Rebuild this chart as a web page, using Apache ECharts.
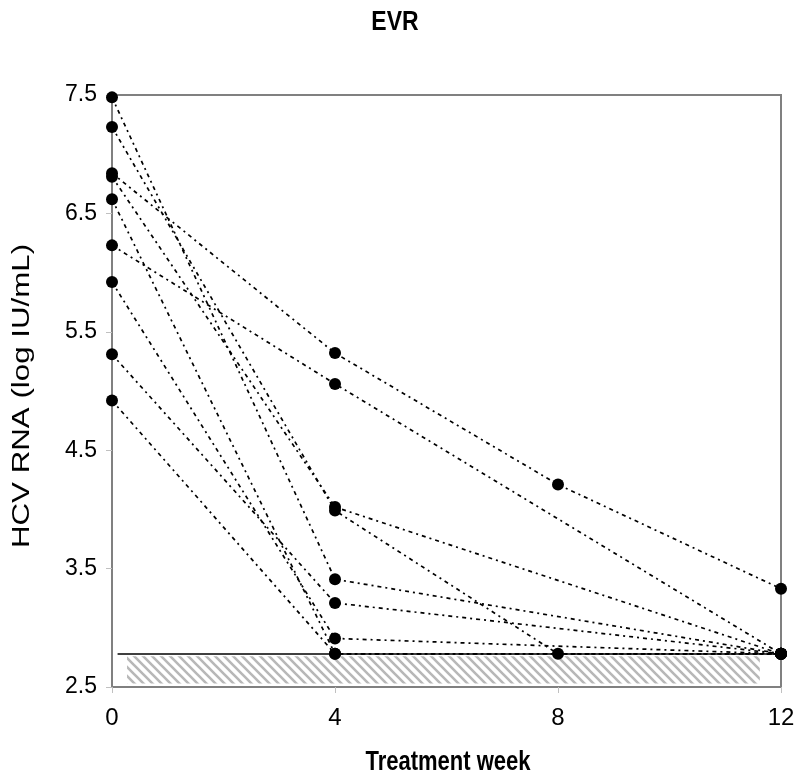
<!DOCTYPE html>
<html>
<head>
<meta charset="utf-8">
<script src="https://cdn.jsdelivr.net/npm/echarts@6/dist/echarts.min.js"></script>
<style>html,body{margin:0;padding:0;background:#fff;}#c{width:800px;height:777px;}</style>
</head>
<body>
<div id="c"></div>
<script>
// Treatment weeks and patient HCV RNA values (log IU/mL)
const weeks = [0, 4, 8, 12];
const patient1 = [7.48, 3.41, null, 2.78];
const patient2 = [7.23, 3.99, 2.78, 2.78];
const patient3 = [6.84, 5.32, 4.21, 3.33];
const patient4 = [6.81, 4.02, null, 2.78];
const patient5 = [6.62, 2.78, null, 2.78];
const patient6 = [6.23, 5.06, null, 2.78];
const patient7 = [5.92, 2.91, null, 2.78];
const patient8 = [5.31, 3.21, null, 2.78];
const patient9 = [4.92, 2.78, null, 2.78];
const patients = [patient1, patient2, patient3, patient4, patient5, patient6, patient7, patient8, patient9];
const limitOfDetection = 2.78;
const limitLineStart = 0.1;
const hatchBottom = 2.53;
const hatchStartWeek = 0.27;
const hatchEndWeek = 11.62;
const yTicks = ['2.5', '3.5', '4.5', '5.5', '6.5', '7.5'];
const xTicks = ['0', '4', '8', '12'];
const chartTitle = 'EVR';
const xTitle = 'Treatment week';
const yTitle = 'HCV RNA (log IU/mL)';

function hatchPattern() {
  const c = document.createElement('canvas');
  c.width = 9; c.height = 9;
  const g = c.getContext('2d');
  g.fillStyle = '#ffffff';
  g.fillRect(0, 0, 9, 9);
  g.strokeStyle = '#b8b8b8';
  g.lineWidth = 2.6;
  g.beginPath();
  g.moveTo(-2, -2); g.lineTo(11, 11);
  g.moveTo(-11, -2); g.lineTo(2, 11);
  g.moveTo(7, -2); g.lineTo(20, 11);
  g.stroke();
  return c;
}

const series = patients.map((p, i) => ({
  type: 'line',
  data: weeks.map((w, j) => p[j] == null ? null : [w, p[j]]).filter(d => d),
  symbol: 'circle',
  symbolSize: 12,
  itemStyle: { color: '#000' },
  lineStyle: { color: '#000', width: 1.7, type: [4, 4, 2, 4] },
  z: 5,
  animation: false
}));

series.push({
  type: 'line',
  data: [],
  markArea: {
    silent: true,
    itemStyle: { color: { image: hatchPattern(), repeat: 'repeat' } },
    data: [[{ coord: [hatchStartWeek, hatchBottom] }, { coord: [hatchEndWeek, limitOfDetection - 0.02] }]]
  },
  markLine: {
    silent: true,
    symbol: 'none',
    label: { show: false },
    lineStyle: { color: '#000', width: 1.5, type: 'solid' },
    data: [[{ coord: [limitLineStart, limitOfDetection] }, { coord: [12, limitOfDetection] }]]
  },
  z: 2,
  animation: false
});

function stretchedText(text, x, y, font, rotation, scaleX, scaleY) {
  return {
    type: 'text', x: x, y: y, rotation: rotation, scaleX: scaleX, scaleY: scaleY,
    style: { text: text, x: 0, y: 0, textAlign: 'center', textVerticalAlign: 'middle', font: font, fill: '#000' }
  };
}

const chart = echarts.init(document.getElementById('c'));
chart.setOption({
  animation: false,
  backgroundColor: '#fff',
  graphic: [
    stretchedText(chartTitle, 395, 22, 'bold 23px "Liberation Sans"', 0, 1, 1.22),
    stretchedText(xTitle, 448, 762, 'bold 22px "Liberation Sans"', 0, 1, 1.25),
    stretchedText(yTitle, 23, 396, '23px "Liberation Sans"', Math.PI / 2, 1.36, 1)
  ],
  grid: { left: 112, right: 19, top: 95, bottom: 90, show: true, borderColor: '#808080', borderWidth: 2 },
  xAxis: {
    type: 'value', min: 0, max: 12, interval: 4,
    axisLine: { lineStyle: { color: '#808080', width: 2 } },
    axisTick: { show: true, length: 6, lineStyle: { color: '#c0c0c0' } },
    axisLabel: {
      fontFamily: 'Liberation Sans', fontSize: 24, color: '#000', margin: 19,
      formatter: v => xTicks.find(t => Math.abs(parseFloat(t) - v) < 1e-6) || ''
    },
    splitLine: { show: false }
  },
  yAxis: {
    type: 'value', min: 2.5, max: 7.5, interval: 1,
    axisLine: { lineStyle: { color: '#808080', width: 2 } },
    axisTick: { show: true, length: 6, lineStyle: { color: '#c0c0c0' } },
    axisLabel: {
      fontFamily: 'Liberation Sans', fontSize: 23, color: '#000', margin: 15,
      formatter: v => yTicks.find(t => Math.abs(parseFloat(t) - v) < 1e-6) || ''
    },
    splitLine: { show: false }
  },
  series: series
});
</script>
</body>
</html>
